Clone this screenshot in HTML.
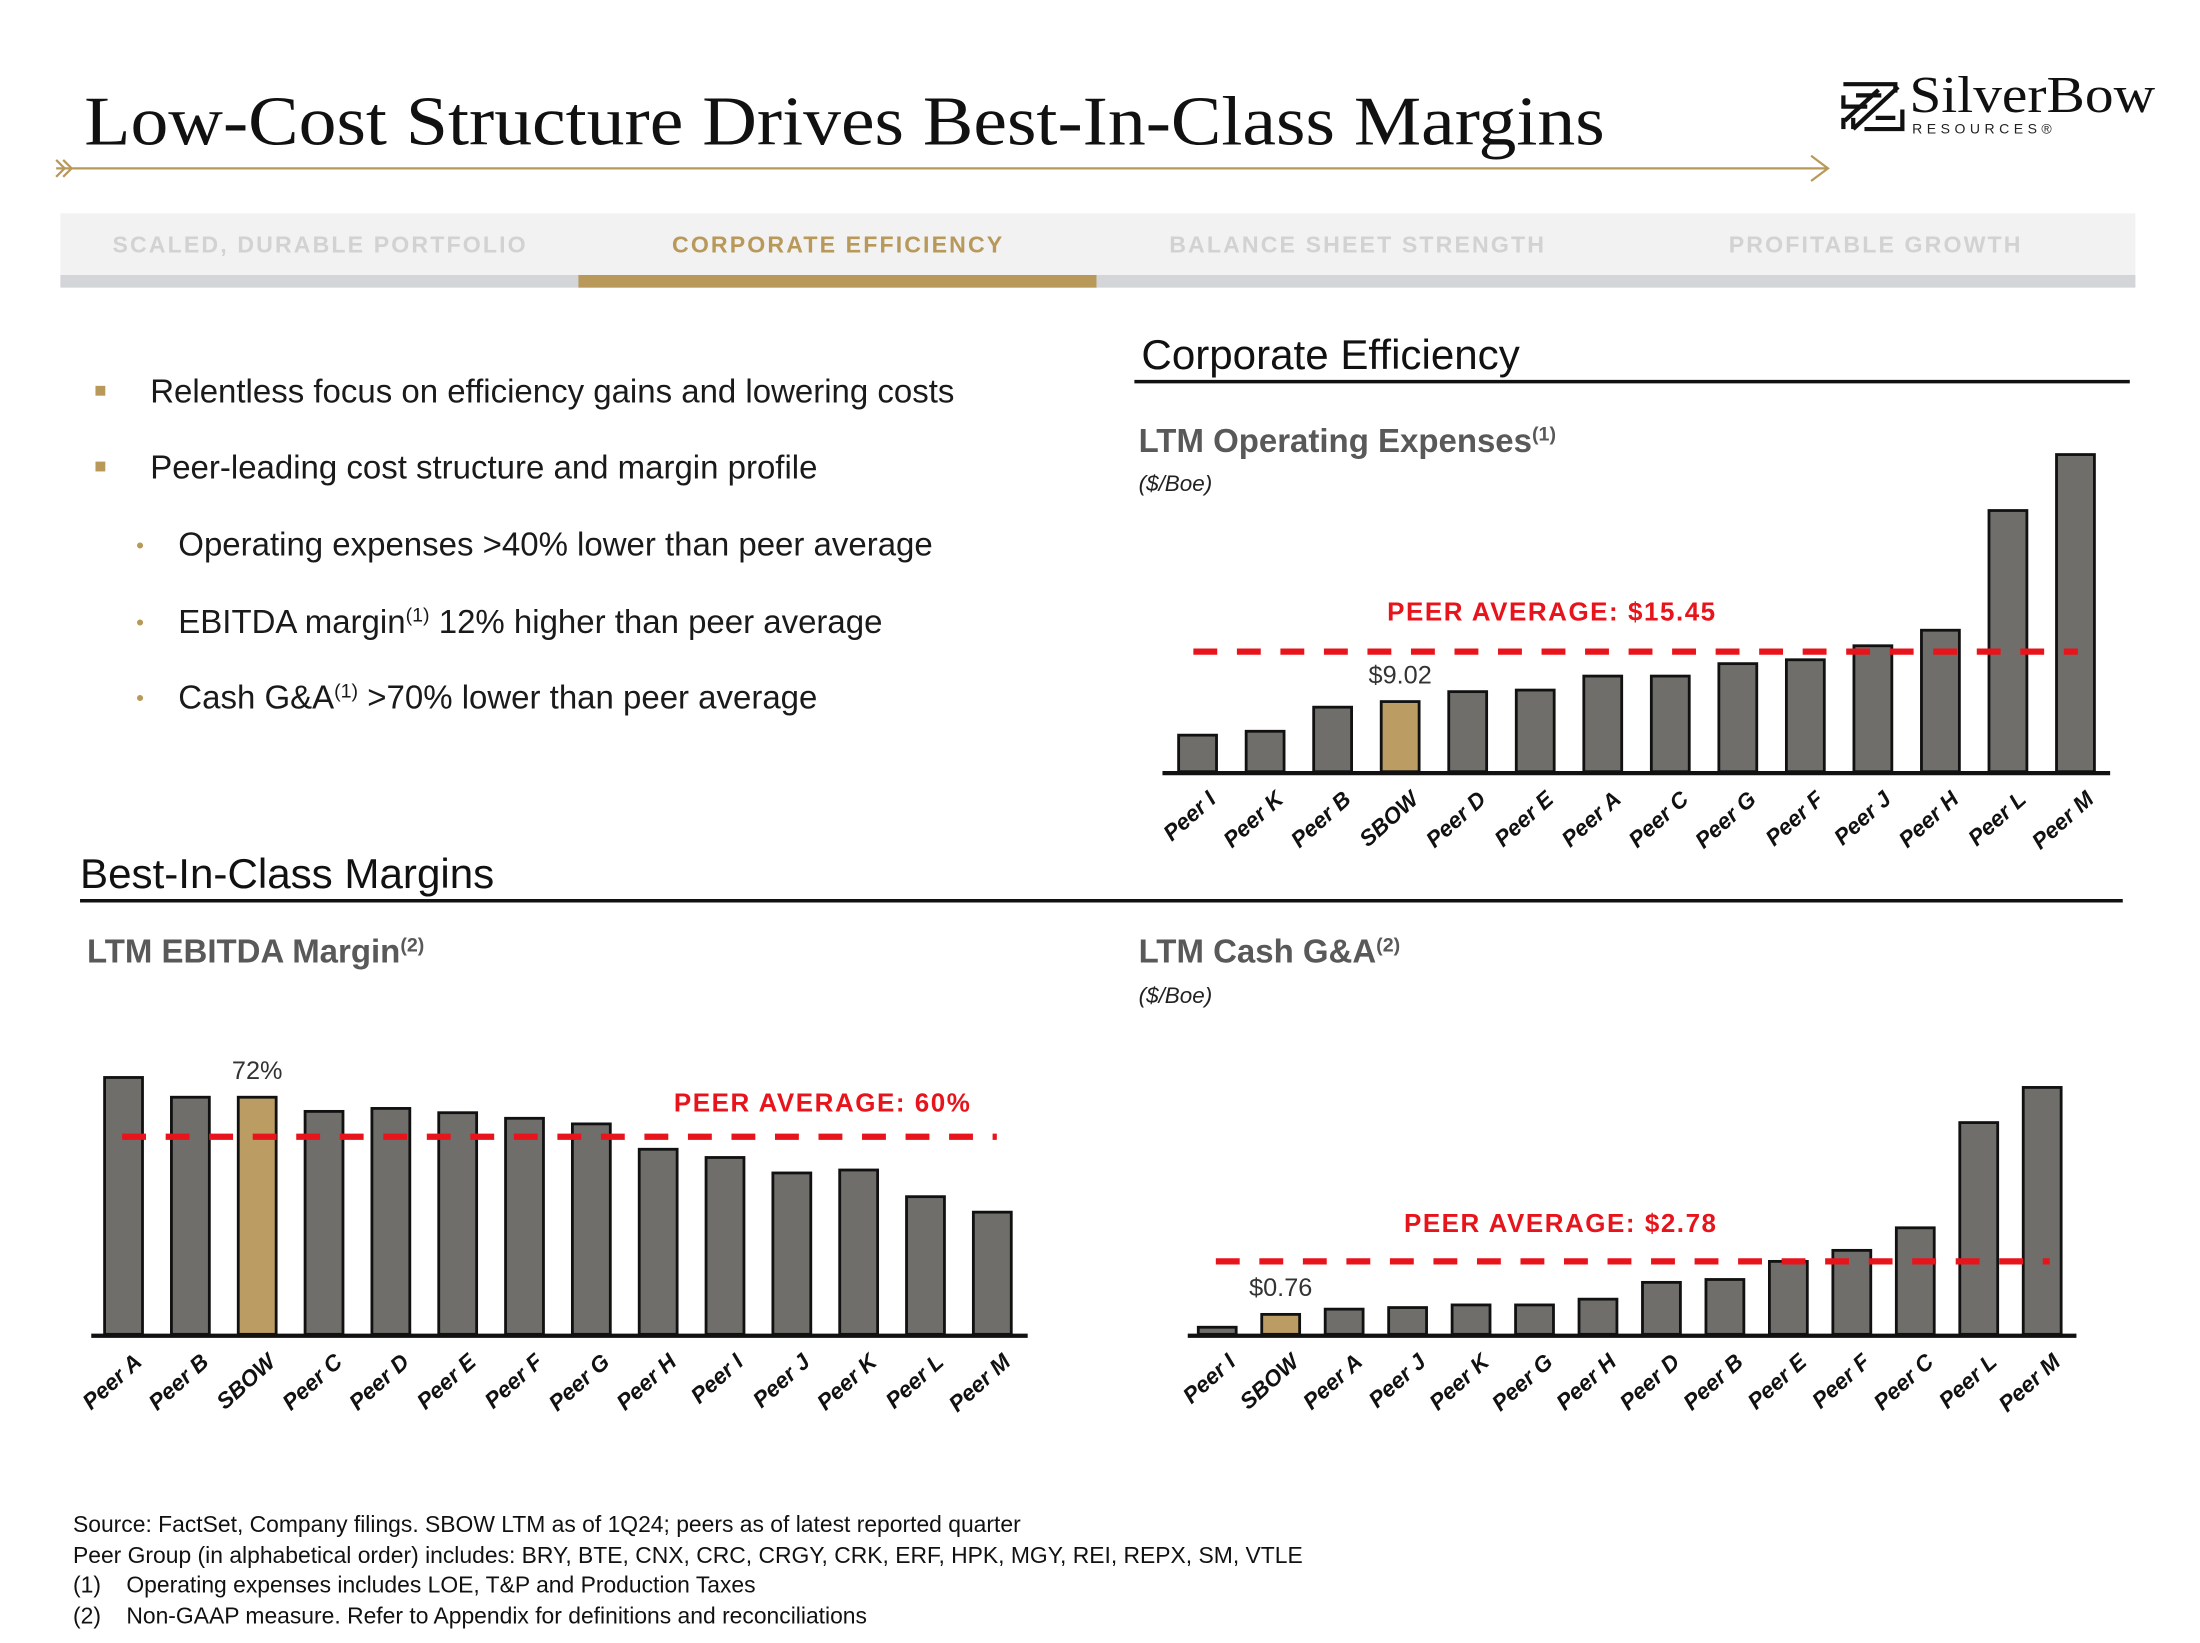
<!DOCTYPE html>
<html><head><meta charset="utf-8">
<style>
html,body{margin:0;padding:0;background:#fff;}
svg{display:block;}
</style></head>
<body>
<svg id="root" width="2200" height="1643" viewBox="0 0 1567 1171" preserveAspectRatio="none" xmlns="http://www.w3.org/2000/svg" font-family="Liberation Sans, sans-serif">
  <text x="60" y="103" font-family="Liberation Serif, serif" font-size="50" fill="#111" textLength="1083" lengthAdjust="spacingAndGlyphs">Low-Cost Structure Drives Best-In-Class Margins</text>
  <g stroke="#b8995a" stroke-width="1.6" fill="none">
    <line x1="40" y1="120" x2="1302" y2="120"/>
    <polyline points="40,114 46,120 40,126"/>
    <polyline points="45,114 51,120 45,126"/>
    <polyline points="1290,111 1302,120 1290,129"/>
  </g>
  <g>
    <g stroke="#111" stroke-width="3" fill="none">
      <polyline points="1313,60 1350,60 1350,66"/>
      <polyline points="1313,68 1313,76 1330,76"/>
      <polyline points="1322,68 1340,68"/>
      <line x1="1320" y1="92" x2="1352" y2="62"/>
      <line x1="1314" y1="86" x2="1338" y2="64"/>
      <polyline points="1355,78 1355,92 1328,92"/>
      <polyline points="1313,84 1313,92"/>
      <polyline points="1320,84 1320,92"/>
      <polyline points="1336,84 1350,84"/>
    </g>
    <text x="1360" y="80" font-family="Liberation Serif, serif" font-size="37" fill="#111" textLength="175" lengthAdjust="spacingAndGlyphs">SilverBow</text>
    <text x="1362" y="95" font-size="10" fill="#222" letter-spacing="3.2">RESOURCES®</text>
  </g>

  <g>
    <rect x="43" y="152" width="1478" height="44" fill="#f2f2f2"/>
    <rect x="43" y="196" width="1478" height="9" fill="#d3d5d8"/>
    <rect x="412" y="196" width="369" height="9" fill="#b8995a"/>
    <text x="228" y="180" text-anchor="middle" font-size="16.5" font-weight="bold" fill="#d2d2d2" letter-spacing="1.5">SCALED, DURABLE PORTFOLIO</text>
    <text x="597" y="180" text-anchor="middle" font-size="16.5" font-weight="bold" fill="#b8995a" letter-spacing="1.5">CORPORATE EFFICIENCY</text>
    <text x="967" y="180" text-anchor="middle" font-size="16.5" font-weight="bold" fill="#d2d2d2" letter-spacing="1.5">BALANCE SHEET STRENGTH</text>
    <text x="1336" y="180" text-anchor="middle" font-size="16.5" font-weight="bold" fill="#d2d2d2" letter-spacing="1.5">PROFITABLE GROWTH</text>
  </g>

  <g font-size="23.5" fill="#1a1a1a">
    <rect x="68" y="275" width="7" height="7" fill="#b8995a"/>
    <text x="107" y="287">Relentless focus on efficiency gains and lowering costs</text>
    <rect x="68" y="329" width="7" height="7" fill="#b8995a"/>
    <text x="107" y="341">Peer-leading cost structure and margin profile</text>
    <text x="97" y="394" fill="#b8995a" font-size="16">•</text>
    <text x="127" y="396">Operating expenses &gt;40% lower than peer average</text>
    <text x="97" y="449" fill="#b8995a" font-size="16">•</text>
    <text x="127" y="451">EBITDA margin<tspan font-size="14" dy="-8">(1)</tspan><tspan dy="8"> 12% higher than peer average</tspan></text>
    <text x="97" y="503" fill="#b8995a" font-size="16">•</text>
    <text x="127" y="505">Cash G&amp;A<tspan font-size="14" dy="-8">(1)</tspan><tspan dy="8"> &gt;70% lower than peer average</tspan></text>
  </g>

  <text x="813" y="263" font-size="30" fill="#111">Corporate Efficiency</text>
  <line x1="808" y1="272" x2="1517" y2="272" stroke="#111" stroke-width="2.5"/>
  <text x="811" y="322" font-size="23.5" font-weight="bold" fill="#595959">LTM Operating Expenses<tspan font-size="14" dy="-8">(1)</tspan></text>
  <text x="811" y="350" font-size="16" font-style="italic" fill="#222">($/Boe)</text>

  <text x="57" y="633" font-size="30" fill="#111">Best-In-Class Margins</text>
  <line x1="57" y1="642" x2="1512" y2="642" stroke="#111" stroke-width="2.5"/>
  <text x="62" y="686" font-size="23.5" font-weight="bold" fill="#595959">LTM EBITDA Margin<tspan font-size="14" dy="-8">(2)</tspan></text>
  <text x="811" y="686" font-size="23.5" font-weight="bold" fill="#595959">LTM Cash G&amp;A<tspan font-size="14" dy="-8">(2)</tspan></text>
  <text x="811" y="715" font-size="16" font-style="italic" fill="#222">($/Boe)</text>

  <g id="opex"></g>
  <g id="ebitda"></g>
  <g id="gna"></g>

  <g font-size="16.3" fill="#111">
    <text x="52" y="1092">Source: FactSet, Company filings. SBOW LTM as of 1Q24; peers as of latest reported quarter</text>
    <text x="52" y="1114">Peer Group (in alphabetical order) includes: BRY, BTE, CNX, CRC, CRGY, CRK, ERF, HPK, MGY, REI, REPX, SM, VTLE</text>
    <text x="52" y="1135">(1)</text><text x="90" y="1135">Operating expenses includes LOE, T&amp;P and Production Taxes</text>
    <text x="52" y="1157">(2)</text><text x="90" y="1157">Non-GAAP measure. Refer to Appendix for definitions and reconciliations</text>
  </g>
</svg>
<script>
const opexCats = ["Peer I","Peer K","Peer B","SBOW","Peer D","Peer E","Peer A","Peer C","Peer G","Peer F","Peer J","Peer H","Peer L","Peer M"];
const opexVals = [4.7,5.2,8.3,9.02,10.3,10.5,12.3,12.3,13.9,14.4,16.2,18.2,33.6,40.8];
const opexAvg = 15.45;
const opexLabels = ["$9.02","PEER AVERAGE: $15.45"];

const ebitdaCats = ["Peer A","Peer B","SBOW","Peer C","Peer D","Peer E","Peer F","Peer G","Peer H","Peer I","Peer J","Peer K","Peer L","Peer M"];
const ebitdaVals = [78,72,72,67.7,68.6,67.3,65.6,63.9,56.2,53.7,49,49.9,41.8,37.1];
const ebitdaAvg = 60;
const ebitdaLabels = ["72%","PEER AVERAGE: 60%"];

const gnaCats = ["Peer I","SBOW","Peer A","Peer J","Peer K","Peer G","Peer H","Peer D","Peer B","Peer E","Peer F","Peer C","Peer L","Peer M"];
const gnaVals = [0.27,0.76,0.96,1.02,1.12,1.12,1.34,1.98,2.09,2.78,3.2,4.06,8.07,9.41];
const gnaAvg = 2.78;
const gnaLabels = ["$0.76","PEER AVERAGE: $2.78"];

const NS="http://www.w3.org/2000/svg";
function mk(tag,attrs,parent){const e=document.createElementNS(NS,tag);for(const k in attrs)e.setAttribute(k,attrs[k]);parent.appendChild(e);return e;}

function drawChart(gid,cats,vals,avg,labels,cfg){
  const g=document.getElementById(gid);
  const xs=i=>cfg.x0+i*cfg.step;
  const ys=v=>cfg.base-v*cfg.scale;
  cats.forEach((c,i)=>{
    const isS=c==="SBOW";
    const r=mk('rect',{x:xs(i)-13.5,y:ys(vals[i]),width:27,height:cfg.base-ys(vals[i]),fill:isS?'#bb9c62':'#706e6b',stroke:'#111','stroke-width':2},g);
    
    
    const lx=xs(i)+14, ly=cfg.base+21;
    const t=mk('text',{x:lx,y:ly,'text-anchor':'end','font-size':16,'font-weight':'bold','font-style':'italic',fill:'#111',transform:`rotate(-42 ${lx} ${ly})`},g);
    t.textContent=c;
    
    
    if(isS){
      const v=mk('text',{x:xs(i),y:ys(vals[i])-13,'text-anchor':'middle','font-size':18,fill:'#333'},g);
      v.textContent=labels[0];
      
      
    }
  });
  const ax=mk('line',{x1:cfg.ax0,x2:cfg.ax1,y1:cfg.base+1,y2:cfg.base+1,stroke:'#111','stroke-width':3},g);
  
  
  const ay=ys(avg);
  const l=mk('line',{x1:cfg.d0,x2:cfg.d1,y1:ay,y2:ay,stroke:'#e8141b','stroke-width':4.5,'stroke-dasharray':'17 14'},g);
  
  
  const at=mk('text',{x:cfg.lx,y:ay-cfg.ly,'font-size':18.5,'font-weight':'bold',fill:'#e8141b','letter-spacing':1.1},g);
  at.textContent=labels[1];
  
  
}
drawChart('opex',opexCats,opexVals,opexAvg,opexLabels,{x0:853,step:48.1,base:550,scale:5.54,ax0:828,ax1:1503,d0:850,d1:1480,lx:988,ly:22});
drawChart('ebitda',ebitdaCats,ebitdaVals,ebitdaAvg,ebitdaLabels,{x0:88,step:47.6,base:951,scale:2.347,ax0:65,ax1:732,d0:87,d1:710,lx:480,ly:18});
drawChart('gna',gnaCats,gnaVals,gnaAvg,gnaLabels,{x0:867,step:45.2,base:951,scale:18.7,ax0:846,ax1:1479,d0:866,d1:1460,lx:1000,ly:21});
</script>
</body></html>
